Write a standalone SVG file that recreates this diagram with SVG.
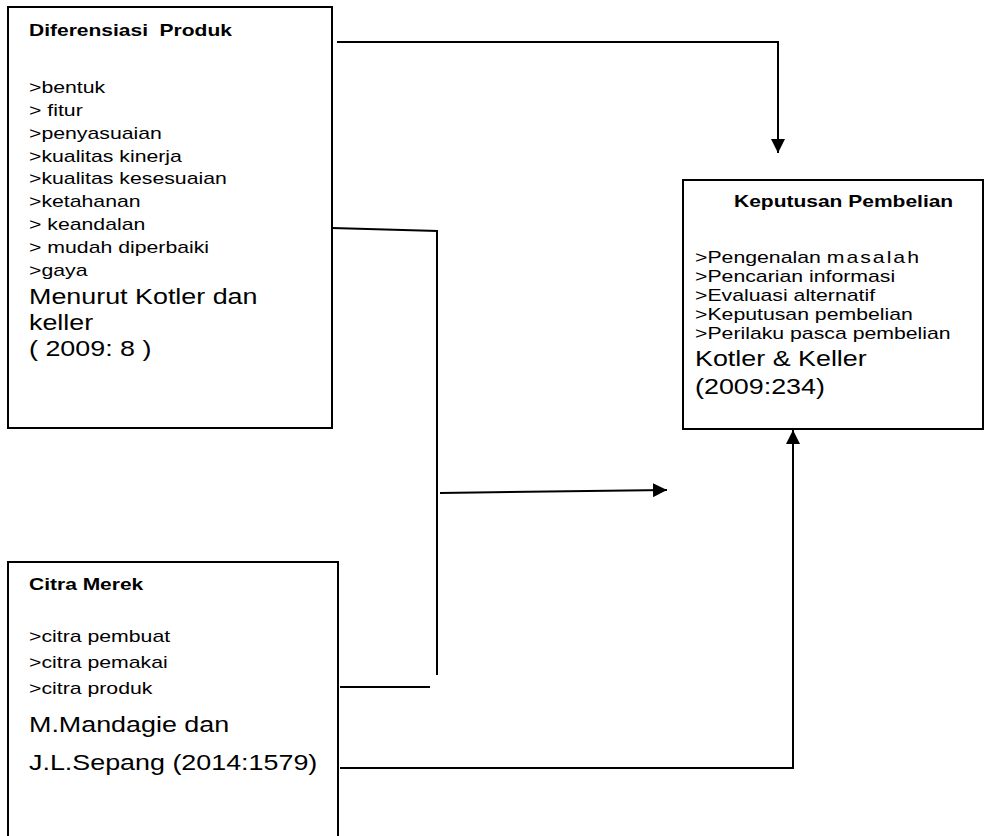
<svg xmlns="http://www.w3.org/2000/svg" width="986" height="836" viewBox="0 0 986 836">
<defs>
<marker id="arr" viewBox="0 0 10 10" refX="10" refY="5" markerWidth="14" markerHeight="14" markerUnits="userSpaceOnUse" orient="auto">
<path d="M0,0 L10,5 L0,10 Z" fill="#000"/>
</marker>
<style>
.box{fill:#fff;stroke:#000;stroke-width:2}
.t{font-family:"Liberation Sans",Arial,sans-serif;fill:#000}
.b{font-weight:bold;font-size:16.8px}
.s{font-size:17px}
.l{font-size:21.5px}
.c{fill:none;stroke:#000;stroke-width:2}
</style>
</defs>
<rect width="986" height="836" fill="#fff"/>
<g id="diferensiasi">
<rect class="box" x="8" y="7" width="324" height="421"/>
<g class="t" transform="translate(29,0) scale(1.25,1)">
<text class="b" x="0" y="36" xml:space="preserve">Diferensiasi  Produk</text>
<text class="s" x="0" y="93">&gt;bentuk</text>
<text class="s" x="0" y="116">&gt; fitur</text>
<text class="s" x="0" y="139">&gt;penyasuaian</text>
<text class="s" x="0" y="162">&gt;kualitas kinerja</text>
<text class="s" x="0" y="184">&gt;kualitas kesesuaian</text>
<text class="s" x="0" y="207">&gt;ketahanan</text>
<text class="s" x="0" y="230">&gt; keandalan</text>
<text class="s" x="0" y="253">&gt; mudah diperbaiki</text>
<text class="s" x="0" y="276">&gt;gaya</text>
<text class="l" x="0" y="304">Menurut Kotler dan</text>
<text class="l" x="0" y="330">keller</text>
<text class="l" x="0" y="356">( 2009: 8 )</text>
</g>
</g>
<g id="keputusan">
<rect class="box" x="683" y="180" width="300" height="249"/>
<g class="t" transform="translate(695,0) scale(1.25,1)">
<text class="b" x="31.2" y="207">Keputusan Pembelian</text>
<text class="s" x="0" y="263">&gt;Pengenalan <tspan letter-spacing="1.6">masalah</tspan></text>
<text class="s" x="0" y="282">&gt;Pencarian informasi</text>
<text class="s" x="0" y="301">&gt;Evaluasi alternatif</text>
<text class="s" x="0" y="320">&gt;Keputusan pembelian</text>
<text class="s" x="0" y="339">&gt;Perilaku pasca pembelian</text>
<text class="l" x="0" y="366">Kotler &amp; Keller</text>
<text class="l" x="0" y="394">(2009:234)</text>
</g>
</g>
<g id="citra">
<rect class="box" x="8" y="562" width="330" height="290"/>
<g class="t" transform="translate(29,0) scale(1.25,1)">
<text class="b" x="0" y="590">Citra Merek</text>
<text class="s" x="0" y="642">&gt;citra pembuat</text>
<text class="s" x="0" y="668">&gt;citra pemakai</text>
<text class="s" x="0" y="694">&gt;citra produk</text>
<text class="l" x="0" y="732">M.Mandagie dan</text>
<text class="l" x="0" y="770">J.L.Sepang (2014:1579)</text>
</g>
</g>
<g id="connectors">
<path class="c" d="M337,42 H778 V153" marker-end="url(#arr)"/>
<path class="c" d="M332,228 L438,231"/>
<path class="c" d="M437,231 V675"/>
<path class="c" d="M440,493 L667,490" marker-end="url(#arr)"/>
<path class="c" d="M340,687 H430"/>
<path class="c" d="M340,768 H793 V430" marker-end="url(#arr)"/>
</g>
</svg>
